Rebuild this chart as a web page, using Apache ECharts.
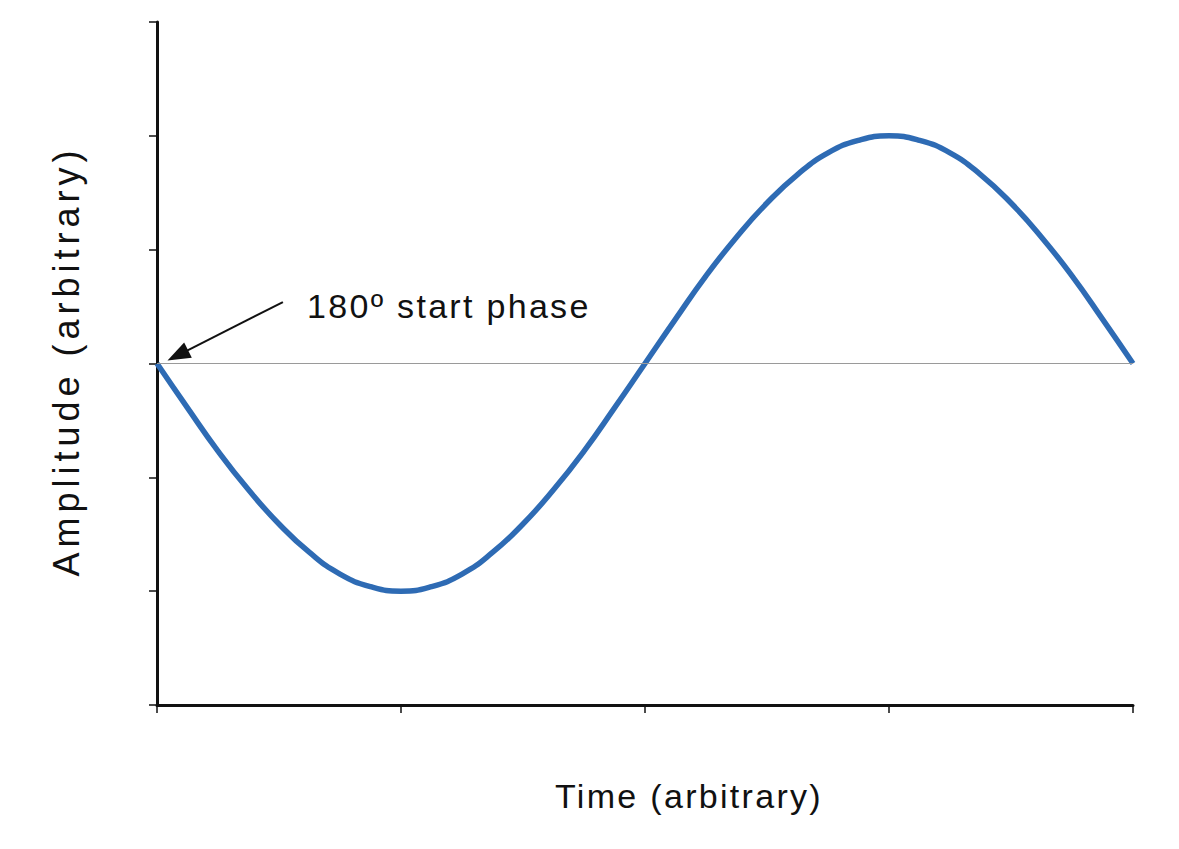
<!DOCTYPE html>
<html>
<head>
<meta charset="utf-8">
<title>180º start phase</title>
<script src="https://cdn.jsdelivr.net/npm/echarts@6/dist/echarts.min.js"></script>
<style>
html, body { margin: 0; padding: 0; background: #fff; }
#main { width: 1179px; height: 849px; }
</style>
</head>
<body>
<div id="main"></div>
<script>
// time points (arbitrary units)
var timeVals = [0, 0.125, 0.25, 0.375, 0.5, 0.625, 0.75, 0.875, 1,
  1.125, 1.25, 1.375, 1.5, 1.625, 1.75, 1.875, 2,
  2.125, 2.25, 2.375, 2.5, 2.625, 2.75, 2.875, 3,
  3.125, 3.25, 3.375, 3.5, 3.625, 3.75, 3.875, 4];
// amplitude at each point
var ampVals = [0, -0.39, -0.77, -1.11, -1.41, -1.66, -1.85, -1.96, -2,
  -1.96, -1.85, -1.66, -1.41, -1.11, -0.77, -0.39, 0,
  0.39, 0.77, 1.11, 1.41, 1.66, 1.85, 1.96, 2,
  1.96, 1.85, 1.66, 1.41, 1.11, 0.77, 0.39, 0];
// arrow of the annotation, from text to start point
var arrowFrom = [0.516, 0.54];
var arrowTo = [0.085, 0.072];

var points = [];
for (var i = 0; i < timeVals.length; i++) {
  points.push([timeVals[i], ampVals[i]]);
}

// svg renderer so the texts can get letter spacing
var myChart = echarts.init(document.getElementById('main'), null, { renderer: 'svg' });

var font = 'Liberation Sans, Arial, sans-serif';

var option = {
  animation: false,
  grid: { left: 157, right: 46, top: 22, bottom: 144 },
  xAxis: {
    type: 'value',
    min: 0, max: 4, interval: 1,
    axisLine: { onZero: false, lineStyle: { color: '#111', width: 3 } },
    axisTick: { show: true, length: 8, lineStyle: { color: '#111', width: 1.5 } },
    axisLabel: { show: false },
    splitLine: { show: false }
  },
  yAxis: {
    type: 'value',
    min: -3, max: 3, interval: 1,
    axisLine: { show: true, onZero: false, lineStyle: { color: '#111', width: 3 } },
    axisTick: { show: true, length: 8, lineStyle: { color: '#111', width: 1.5 } },
    axisLabel: { show: false },
    splitLine: { show: false }
  },
  series: [{
    type: 'line',
    data: points,
    smooth: true,
    showSymbol: false,
    lineStyle: { color: '#2E6BB4', width: 5.5 },
    z: 3,
    markLine: {
      silent: true,
      symbol: 'none',
      label: { show: false },
      data: [
        [{ coord: [0, 0], lineStyle: { color: '#9a9a9a', width: 1, type: 'solid' } }, { coord: [4, 0] }],
        [{ coord: arrowFrom, symbol: 'none', lineStyle: { color: '#111', width: 2, type: 'solid' } },
         { coord: arrowTo, symbol: 'triangle', symbolSize: [17, 23] }]
      ]
    }
  }],
  graphic: [{
    // annotation
    type: 'text',
    x: 307, y: 306,
    style: { text: '180º start phase', font: '34px ' + font, fill: '#111', textAlign: 'left', textVerticalAlign: 'middle' }
  }, {
    // x axis title
    type: 'text',
    x: 689, y: 796,
    style: { text: 'Time (arbitrary)', font: '34px ' + font, fill: '#111', textAlign: 'center', textVerticalAlign: 'middle' }
  }, {
    // y axis title
    type: 'text',
    x: 66, y: 361,
    rotation: Math.PI / 2,
    style: { text: 'Amplitude (arbitrary)', font: '36px ' + font, fill: '#111', textAlign: 'center', textVerticalAlign: 'middle' }
  }]
};

myChart.setOption(option);

// spread the letters like in the original print
var spacing = { 'Amplitude (arbitrary)': '5px' };
var texts = document.querySelectorAll('#main text');
for (var t = 0; t < texts.length; t++) {
  texts[t].style.letterSpacing = spacing[texts[t].textContent] || '2.3px';
}
</script>
</body>
</html>
